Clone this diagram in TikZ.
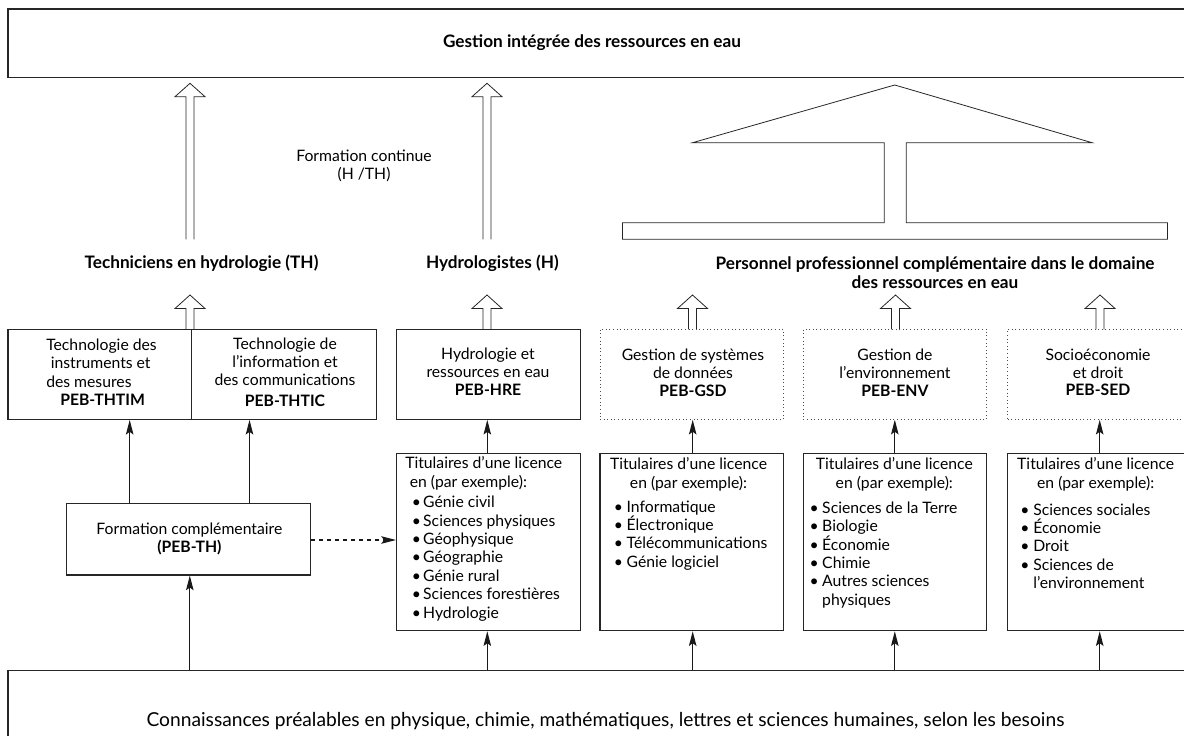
\documentclass[tikz,border=0pt]{standalone}
\usepackage{fontspec}
\setmainfont{Lato}
\usetikzlibrary{arrows.meta,fit}
\newcommand\hollowup[4]{%
  \draw[hol] (#1-4,#2) -- (#1-4,#4) -- (#1-15,#4) -- (#1,#3) -- (#1+15,#4) -- (#1+4,#4) -- (#1+4,#2);}
\newcommand\bul[1]{\makebox[#1][l]{\textbullet}}
\begin{document}
\begin{tikzpicture}[x=0.75pt,y=-0.75pt,
  box/.style={draw=black!85,line width=0.8pt,inner sep=0pt},
  dbox/.style={draw=black!70,line width=0.7pt,dotted,inner sep=0pt},
  conn/.style={draw=black!90,line width=0.9pt,-{Stealth[length=11pt,width=5.6pt,inset=2pt]}},
  hol/.style={draw=black!85,line width=0.6pt},
  txt/.style={font=\fontsize{11.8}{13.8}\selectfont,inner sep=0pt},
  txtb/.style={font=\fontsize{11.8}{13.4}\selectfont,inner sep=0pt},
  btxt/.style={font=\fontsize{12.9}{14}\selectfont\bfseries,inner sep=0pt}]
\clip (0,0) rectangle (1184,735);
% top box
\node[box,fit={(8,9)(1200,77.7)}] (top) {};
\node[btxt] (toptxt) at (592,43) {Gestion intégrée des ressources en eau};
% big hollow arrows
\hollowup{190}{239.3}{83.3}{96.7}
\hollowup{487}{239.3}{83.3}{96.7}
\node[txt,align=center] (fcont) at (364,166) {Formation continue\\(H /TH)};
% T shape
\draw[hol] (622.4,222.7) -- (884.3,222.7) -- (884.3,142.7) -- (692.5,142.7) -- (894.7,85) -- (1092,142.7) -- (906.3,142.7) -- (906.3,222.7) -- (1167.4,222.7) -- (1167.4,239.3) -- (622.4,239.3) -- cycle;
% labels
\node[btxt] (lth) at (201.5,263) {Techniciens en hydrologie (TH)};
\node[btxt] (lh) at (492.4,263) {Hydrologistes (H)};
\node[btxt,align=center] (lpers) at (935,272.4) {Personnel professionnel complémentaire dans le domaine\\des ressources en eau};
% small hollow arrows
\hollowup{190}{329.3}{295}{308.5}
\hollowup{487}{329.3}{295}{308.5}
\hollowup{692.5}{329.3}{295}{308.5}
\hollowup{895.5}{329.3}{295}{308.5}
\hollowup{1100}{329.3}{295}{308.5}
% upper boxes
\node[box,fit={(8,329.3)(191.4,419.3)}] (thtim) {};
\node[box,fit={(191.4,329.3)(376.6,419.3)}] (thtic) {};
\node[box,fit={(396.5,329.3)(580.2,419.3)}] (hre) {};
\node[dbox,fit={(600,329.3)(783.4,419.3)}] (gsd) {};
\node[dbox,fit={(803.4,329.3)(986.8,419.3)}] (env) {};
\node[dbox,fit={(1007.6,329.3)(1192,419.3)}] (sed) {};
\node[txt,align=left,anchor=north west] (thtimtxt) at (46,338.5) {Technologie des\\\hspace*{3.4pt}instruments et\\des mesures\\\hspace*{10.5pt}\textbf{PEB-THTIM}};
\node[txt,align=center,anchor=north] (thtictxt) at (285,337.2) {Technologie de\\l’information et\\des communications\\[1.5pt]\textbf{PEB-THTIC}};
\node[txtb,align=center,anchor=north] (hretxt) at (488,347.5) {Hydrologie et\\ressources en eau\\\textbf{PEB-HRE}};
\node[txtb,align=center,anchor=north] (gsdtxt) at (693,348.5) {Gestion de systèmes\\de données\\\textbf{PEB-GSD}};
\node[txtb,align=center,anchor=north] (envtxt) at (895,348.5) {Gestion de\\l’environnement\\\textbf{PEB-ENV}};
\node[txtb,align=center,anchor=north] (sedtxt) at (1098,348.5) {Socioéconomie\\et droit\\\textbf{PEB-SED}};
% formation complementaire
\node[box,fit={(66.6,503.3)(310.8,575)}] (fc) {};
\node[txt,align=center] (fctxt) at (189.4,539) {Formation complémentaire\\\textbf{(PEB-TH)}};
% titulaires boxes
\node[box,fit={(396.5,453.3)(580.2,630.7)}] (t1) {};
\node[box,fit={(600,453.3)(783.4,630.7)}] (t2) {};
\node[box,fit={(803.4,453.3)(986.8,630.7)}] (t3) {};
\node[box,fit={(1007.6,453.3)(1192,630.7)}] (t4) {};
\node[txt,align=left,anchor=north west] (t1h) at (405,456.5) {Titulaires d’une licence\\\hspace*{3.4pt}en (par exemple):};
\node[txt,align=left,anchor=north west] (t1l) at (411.5,495.8) {%
\bul{8.6pt}Génie civil\\
\bul{8.6pt}Sciences physiques\\
\bul{8.6pt}Géophysique\\
\bul{8.6pt}Géographie\\
\bul{8.6pt}Génie rural\\
\bul{8.6pt}Sciences forestières\\
\bul{8.6pt}Hydrologie};
\node[txt,align=center,anchor=north] (t2h) at (688.5,457.5) {Titulaires d’une licence\\en (par exemple):};
\node[txt,align=left,anchor=north west] (t2l) at (613.6,500.2) {%
\bul{9.6pt}Informatique\\
\bul{9.6pt}Électronique\\
\bul{9.6pt}Télécommunications\\
\bul{9.6pt}Génie logiciel};
\node[txt,align=center,anchor=north] (t3h) at (894.3,457.5) {Titulaires d’une licence\\en (par exemple):};
\node[txt,align=left,anchor=north west] (t3l) at (809.3,501.5) {%
\bul{9.5pt}Sciences de la Terre\\
\bul{9.5pt}Biologie\\
\bul{9.5pt}Économie\\
\bul{9.5pt}Chimie\\
\bul{9.5pt}Autres sciences\\
\makebox[9.5pt][l]{}physiques};
\node[txt,align=center,anchor=north] (t4h) at (1095.7,457.5) {Titulaires d’une licence\\en (par exemple):};
\node[txt,align=left,anchor=north west] (t4l) at (1020,503.2) {%
\bul{9.8pt}Sciences sociales\\
\bul{9.8pt}Économie\\
\bul{9.8pt}Droit\\
\bul{9.8pt}Sciences de\\
\makebox[9.8pt][l]{}l’environnement};
% bottom box
\node[box,fit={(8,670.3)(1200,780)}] (bot) {};
\node[font=\fontsize{14.4}{16}\selectfont,inner sep=0pt] (bottxt) at (605.5,721) {Connaissances préalables en physique, chimie, mathématiques, lettres et sciences humaines, selon les besoins};
% connectors
\draw[conn] (189.8,0 |- bot.north) -- (189.8,0 |- fc.south);
\draw[conn] (129.7,0 |- fc.north) -- (129.7,0 |- thtim.south);
\draw[conn] (249.5,0 |- fc.north) -- (249.5,0 |- thtic.south);
\draw[conn,dashed] (fc.east |- 0,540) -- (t1.west |- 0,540);
\draw[conn] (487.3,0 |- bot.north) -- (487.3,0 |- t1.south);
\draw[conn] (692.7,0 |- bot.north) -- (692.7,0 |- t2.south);
\draw[conn] (894.8,0 |- bot.north) -- (894.8,0 |- t3.south);
\draw[conn] (1099.7,0 |- bot.north) -- (1099.7,0 |- t4.south);
\draw[conn] (487.3,0 |- t1.north) -- (487.3,0 |- hre.south);
\draw[conn] (692.7,0 |- t2.north) -- (692.7,0 |- gsd.south);
\draw[conn] (894.8,0 |- t3.north) -- (894.8,0 |- env.south);
\draw[conn] (1099.7,0 |- t4.north) -- (1099.7,0 |- sed.south);
\end{tikzpicture}
\end{document}
